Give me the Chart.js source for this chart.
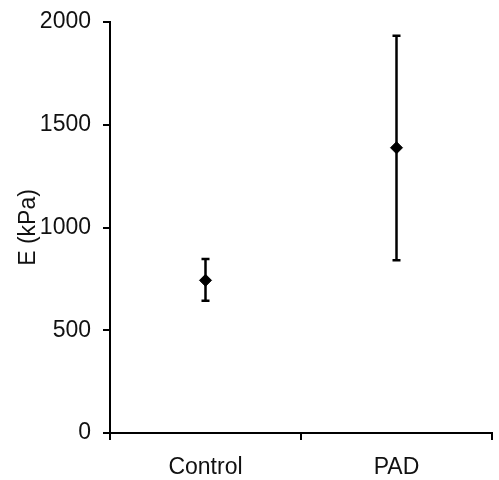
<!DOCTYPE html>
<html>
<head>
<meta charset="utf-8">
<script src="https://cdn.jsdelivr.net/npm/chart.js@4"></script>
<style>
html,body{margin:0;padding:0;background:#fff;}
#c{display:block;}
</style>
</head>
<body>
<canvas id="c" width="499" height="480"></canvas>
<script>
const categories = ['Control', 'PAD'];
const means = [743, 1388];
const upperErr = [847, 1933];
const lowerErr = [643, 841];
const yTicks = [0, 500, 1000, 1500, 2000];
const yTitle = 'E (kPa)';

const FONT = '"Liberation Sans", Arial, sans-serif';

const errorBars = {
  id: 'errorBars',
  beforeDatasetsDraw(chart) {
    const ctx = chart.ctx;
    const xs = chart.scales.x, ys = chart.scales.y;
    ctx.save();
    ctx.strokeStyle = '#000';
    ctx.lineWidth = 2.5;
    categories.forEach((c, i) => {
      const x = xs.getPixelForValue(i);
      const yt = ys.getPixelForValue(upperErr[i]);
      const yb = ys.getPixelForValue(lowerErr[i]);
      ctx.beginPath();
      ctx.moveTo(x, yt); ctx.lineTo(x, yb);
      ctx.moveTo(x - 4, yt); ctx.lineTo(x + 4, yt);
      ctx.moveTo(x - 4, yb); ctx.lineTo(x + 4, yb);
      ctx.stroke();
    });
    ctx.restore();
  }
};

new Chart(document.getElementById('c'), {
  type: 'line',
  data: {
    labels: categories,
    datasets: [{
      data: means,
      showLine: false,
      pointStyle: 'rectRot',
      pointRadius: 6,
      pointBackgroundColor: '#000',
      pointBorderColor: '#000',
      pointBorderWidth: 1
    }]
  },
  options: {
    responsive: false,
    animation: false,
    layout: { padding: { top: 22, right: 7, left: 0, bottom: 0 } },
    plugins: { legend: { display: false }, tooltip: { enabled: false } },
    scales: {
      x: {
        type: 'category',
        offset: true,
        border: { display: true, color: '#000', width: 2 },
        grid: { offset: true, drawOnChartArea: false, drawTicks: true, tickLength: 7, color: '#000', lineWidth: 2 },
        ticks: { color: '#111', font: { family: FONT, size: 23 }, padding: 14 },
        afterFit(s) { s.height = 47; s.paddingLeft = 0; s.paddingRight = 0; }
      },
      y: {
        min: 0, max: 2000,
        afterBuildTicks(s) { s.ticks = yTicks.map(v => ({ value: v })); },
        border: { display: true, color: '#000', width: 2 },
        grid: { drawOnChartArea: false, drawTicks: true, tickLength: 7, color: '#000', lineWidth: 2 },
        ticks: { color: '#111', font: { family: FONT, size: 23 }, padding: 12, callback: v => String(v) },
        title: { display: true, text: yTitle, color: '#111', font: { family: FONT, size: 23 }, padding: { top: 15, bottom: 0 } },
        afterFit(s) { s.width = 110; s.paddingTop = 0; s.paddingBottom = 0; }
      }
    }
  },
  plugins: [errorBars]
});
</script>
</body>
</html>
